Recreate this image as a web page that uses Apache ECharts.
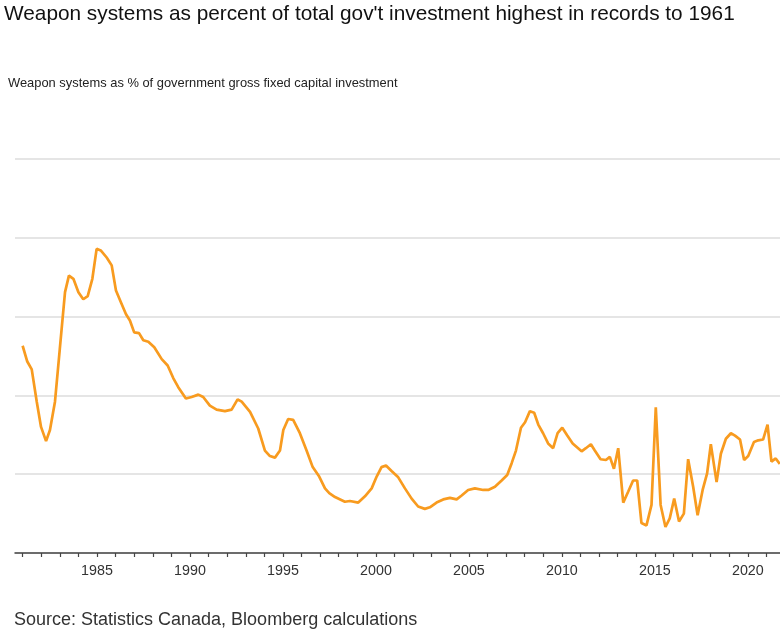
<!DOCTYPE html>
<html>
<head>
<meta charset="utf-8">
<script src="https://cdn.jsdelivr.net/npm/echarts@6/dist/echarts.min.js"></script>
<style>
html,body{margin:0;padding:0;background:#fff;}
#chart{width:780px;height:633px;}
</style>
</head>
<body>
<div id="chart"></div>
<script>
const titleText = "Weapon systems as percent of total gov't investment highest in records to 1961";
const subtitleText = "Weapon systems as % of government gross fixed capital investment";
const sourceText = "Source: Statistics Canada, Bloomberg calculations";

const tickYears = [1981,1982,1983,1984,1985,1986,1987,1988,1989,1990,1991,1992,1993,1994,1995,1996,1997,1998,1999,2000,2001,2002,2003,2004,2005,2006,2007,2008,2009,2010,2011,2012,2013,2014,2015,2016,2017,2018,2019,2020,2021];
const labelYears = [1985,1990,1995,2000,2005,2010,2015,2020];

const years = [
  1981.0,1981.25,1981.49,1981.76,1981.99,1982.26,1982.47,1982.74,
  1983.0,1983.28,1983.49,1983.73,1984.0,1984.26,1984.5,1984.75,
  1984.98,1985.2,1985.52,1985.79,1986.02,1986.29,1986.56,1986.77,
  1987.0,1987.26,1987.49,1987.76,1988.08,1988.48,1988.8,1989.1,
  1989.37,1989.78,1990.09,1990.45,1990.71,1991.07,1991.43,1991.88,
  1992.24,1992.56,1992.78,1993.23,1993.67,1994.03,1994.3,1994.57,
  1994.84,1995.02,1995.28,1995.55,1995.91,1996.27,1996.6,1996.95,
  1997.26,1997.49,1997.8,1998.33,1998.6,1999.05,1999.41,1999.77,
  2000.04,2000.3,2000.54,2000.84,2001.2,2001.56,2001.92,2002.27,
  2002.63,2002.9,2003.26,2003.62,2003.98,2004.34,2004.61,2004.96,
  2005.32,2005.77,2006.04,2006.4,2006.76,2007.06,2007.3,2007.53,
  2007.8,2008.02,2008.28,2008.51,2008.73,2008.99,2009.26,2009.53,
  2009.77,2010.02,2010.29,2010.58,2011.06,2011.29,2011.56,2011.77,
  2012.08,2012.37,2012.58,2012.8,2013.03,2013.3,2013.57,2013.83,
  2014.05,2014.28,2014.55,2014.82,2015.05,2015.31,2015.57,2015.8,
  2016.04,2016.3,2016.56,2016.79,2017.06,2017.3,2017.57,2017.81,
  2018.01,2018.32,2018.55,2018.82,2019.09,2019.31,2019.58,2019.8,
  2020.02,2020.33,2020.56,2020.82,2021.06,2021.27,2021.5,2021.72
];
const shares = [
  26.3,24.3,23.3,19.2,16.0,14.2,15.6,19.2,
  25.9,33.1,35.2,34.8,33.1,32.2,32.6,34.8,
  38.6,38.4,37.5,36.5,33.3,31.8,30.3,29.5,
  28.0,27.9,27.0,26.8,26.1,24.6,23.8,22.2,
  21.05,19.6,19.8,20.1,19.8,18.7,18.2,18.0,
  18.2,19.5,19.2,17.9,15.8,13.0,12.3,12.1,
  13.0,15.6,17.0,16.9,15.2,13.0,10.9,9.7,
  8.2,7.6,7.1,6.5,6.6,6.4,7.2,8.2,
  9.7,10.9,11.1,10.4,9.6,8.2,6.9,5.9,
  5.6,5.8,6.4,6.8,7.0,6.8,7.3,8.0,
  8.2,8.0,8.0,8.4,9.2,9.9,11.4,13.0,
  15.9,16.6,18.0,17.8,16.3,15.2,13.9,13.3,
  15.2,15.9,14.9,13.9,12.9,13.3,13.8,13.0,
  11.9,11.8,12.2,10.7,13.3,6.4,7.8,9.2,
  9.2,3.8,3.5,6.1,18.5,6.1,3.3,4.4,
  6.9,4.0,5.0,11.9,8.4,4.8,8.0,10.1,
  13.8,9.0,12.6,14.5,15.2,14.9,14.4,11.8,
  12.3,14.1,14.3,14.4,16.3,11.6,12.0,11.3
];

const seriesData = years.map((y, i) => [y, shares[i]]);

const chart = echarts.init(document.getElementById('chart'), null, {renderer: 'canvas'});
const FONT = '"Liberation Sans", Arial, Helvetica, sans-serif';
chart.setOption({
  backgroundColor: '#ffffff',
  animation: false,
  title: [
    {text: titleText, left: 4, top: 4, padding: 0,
     textStyle: {fontFamily: FONT, fontSize: 20.8, fontWeight: 'normal', color: '#111'}},
    {text: subtitleText, left: 8, top: 77, padding: 0,
     textStyle: {fontFamily: FONT, fontSize: 12.9, fontWeight: 'normal', color: '#222'}},
    {text: sourceText, left: 14, top: 611, padding: 0,
     textStyle: {fontFamily: FONT, fontSize: 18, fontWeight: 'normal', color: '#333'}}
  ],
  grid: {left: 15, right: 0, top: 159, bottom: 80, containLabel: false},
  xAxis: {
    type: 'value', min: 1980.59, max: 2021.73,
    splitLine: {show: false},
    axisLine: {show: true, lineStyle: {color: '#444', width: 1.5}},
    axisTick: {show: true, length: 4, customValues: tickYears, lineStyle: {color: '#444', width: 1.2}},
    axisLabel: {customValues: labelYears, formatter: v => String(v), margin: 11,
      fontFamily: FONT, fontSize: 14.3, color: '#333'}
  },
  yAxis: {
    type: 'value', min: 0, max: 50, interval: 10,
    axisLine: {show: false}, axisTick: {show: false}, axisLabel: {show: false},
    splitLine: {show: true, lineStyle: {color: '#dcdcdc', width: 1.5}}
  },
  series: [{
    type: 'line', data: seriesData, showSymbol: false, smooth: false,
    lineStyle: {color: '#f89b1f', width: 2.7},
    itemStyle: {color: '#f89b1f'}
  }]
});
</script>
</body>
</html>
